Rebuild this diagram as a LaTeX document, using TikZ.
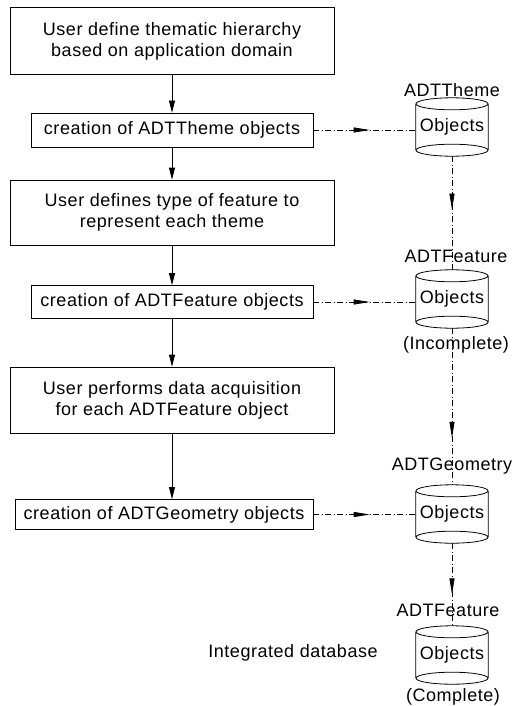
\documentclass[tikz,border=0pt]{standalone}
\usepackage{fontspec}
\setmainfont[LetterSpace=3]{Liberation Sans}
\usetikzlibrary{arrows.meta,decorations.markings}
\tikzset{
    stepbox/.style={draw, line width=0.8pt, align=center, inner sep=2pt},
    flowarrow/.style={line width=0.8pt, -{Triangle[length=12pt, width=6pt]}},
    % dash-dot line with its arrow head part way along
    dataarrow/.style={
        line width=0.8pt,
        dash pattern=on 6pt off 2.5pt on 1pt off 2.5pt,
        postaction={decorate, decoration={markings,
            mark=at position #1 with {\arrow{Triangle[length=16pt, width=5pt]}}}}
    },
    dataarrow/.default=0.55,
    dbbody/.style={minimum width=72pt, minimum height=58pt, inner sep=0pt},
    dblabel/.style={inner sep=1pt}
}

\begin{document}
\begin{tikzpicture}[x=1pt, y=-1pt, font=\fontsize{18}{21}\selectfont]
    \useasboundingbox (0,0) rectangle (514,706);

    \node[stepbox, minimum width=324pt, minimum height=67pt] (define) at (172,41)
        {User define thematic hierarchy\\ based on application domain};
    \node[stepbox, minimum width=282pt, minimum height=34pt] (thmmake) at (172,130)
        {creation of ADTTheme objects};
    \node[stepbox, minimum width=324pt, minimum height=65pt] (types) at (172,212.5)
        {User defines type of feature to\\ represent each theme};
    \node[stepbox, minimum width=282pt, minimum height=33pt] (ftimake) at (172,302)
        {creation of ADTFeature objects};
    \node[stepbox, minimum width=324pt, minimum height=66pt] (acquire) at (172,400)
        {User performs data acquisition\\ for each ADTFeature object};
    \node[stepbox, minimum width=298pt, minimum height=30pt] (geomake) at (164,514.5)
        {creation of ADTGeometry objects};

    \node[dbbody] (thm) at (452,127) {Objects};
    \node[dbbody] (fti) at (452,299) {Objects};
    \node[dbbody] (geo) at (452,514) {Objects};
    \node[dbbody] (ftc) at (452,655) {Objects};
    \foreach \c in {thm,fti,geo,ftc} {
        \draw[line width=0.8pt]
        ([yshift=-6pt]\c.north) ellipse [x radius=36pt, y radius=6pt]
        ([yshift=6pt]\c.south) ellipse [x radius=36pt, y radius=6pt]
        ([yshift=-6pt]\c.north west) -- ([yshift=6pt]\c.south west)
        ([yshift=-6pt]\c.north east) -- ([yshift=6pt]\c.south east);
    }

    \node[dblabel] (thmname) at (452,90) {ADTTheme};
    \node[dblabel] (ftiname) at (456,256) {ADTFeature};
    \node[dblabel] (ftinote) at (456,345) {(Incomplete)};
    \node[dblabel] (geoname) at (452,466) {ADTGeometry};
    \node[dblabel] (ftcname) at (448,610) {ADTFeature};
    \node[dblabel] (ftcnote) at (453,697) {(Complete)};
    \node[dblabel] (integ) at (293,653) {Integrated database};

    \draw[flowarrow] (define) -- (thmmake);
    \draw[flowarrow] (thmmake) -- (types);
    \draw[flowarrow] (types) -- (ftimake);
    \draw[flowarrow] (ftimake) -- (acquire);
    \draw[flowarrow] (acquire.south) -- (acquire.south |- geomake.north);

    \draw[dataarrow] (thmmake.east) -- (thmmake.east -| thm.west);
    \draw[dataarrow] (ftimake.east) -- (ftimake.east -| fti.west);
    \draw[dataarrow] (geomake.east) -- (geomake.east -| geo.west);
    \draw[dataarrow=0.47] (thm.south) -- (fti.north);
    \draw[dataarrow=0.7] (fti.south) -- (geo.north);
    \draw[dataarrow=0.62] (geo.south) -- (ftc.north);
\end{tikzpicture}
\end{document}
